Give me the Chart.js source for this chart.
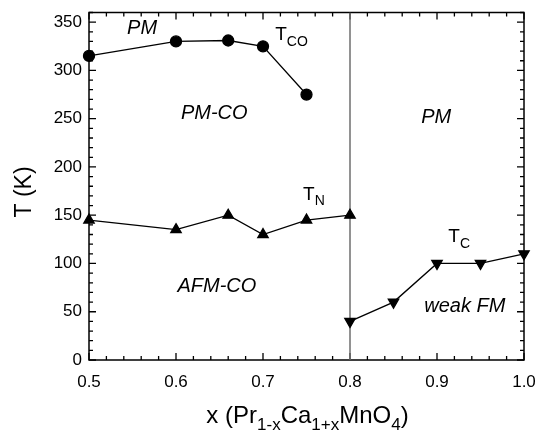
<!DOCTYPE html>
<html>
<head>
<meta charset="utf-8">
<script src="https://cdn.jsdelivr.net/npm/chart.js@4"></script>
<style>
html,body{margin:0;padding:0;background:#fff;}
#wrap{width:538px;height:431px;}
</style>
</head>
<body>
<div id="wrap"><canvas id="c" width="538" height="431"></canvas></div>
<script>
// ---- data ----
const xTicks = [0.5, 0.6, 0.7, 0.8, 0.9, 1.0];
const yTicks = [0, 50, 100, 150, 200, 250, 300, 350];
const tcoX = [0.5, 0.6, 0.66, 0.7, 0.75];
const tcoY = [315, 330, 331, 325, 275];
const tnX = [0.5, 0.6, 0.66, 0.7, 0.75, 0.8];
const tnY = [145, 135, 150, 130, 145, 150];
const tcX = [0.8, 0.85, 0.9, 0.95, 1.0];
const tcY = [40, 60, 100, 100, 110];
const boundaryX = [0.8, 0.8];
const boundaryY = [0, 360];
const xRange = [0.5, 1.0];
const yRange = [0, 360];

const pts = (xs, ys) => xs.map((x, i) => ({x, y: ys[i]}));
const FONT = '"Liberation Sans", Arial, sans-serif';

function drawParts(ctx, parts, x, y, size, subSize, italic) {
  let cx = x;
  parts.forEach(p => {
    const s = p.sub ? subSize : size;
    ctx.font = (italic ? 'italic ' : '') + s + 'px ' + FONT;
    ctx.fillText(p.t, cx, p.sub ? y + size * 0.28 : y);
    cx += ctx.measureText(p.t).width;
  });
  return cx - x;
}
function partsWidth(ctx, parts, size, subSize) {
  let w = 0;
  parts.forEach(p => {
    ctx.font = (p.sub ? subSize : size) + 'px ' + FONT;
    w += ctx.measureText(p.t).width;
  });
  return w;
}

const framePlugin = {
  id: 'frame',
  beforeDatasetsDraw(chart) {
    const {ctx, chartArea: a, scales: {x, y}} = chart;
    ctx.save();
    ctx.strokeStyle = '#000';
    ctx.lineWidth = 1.5;
    ctx.strokeRect(a.left, a.top, a.right - a.left, a.bottom - a.top);
    ctx.lineWidth = 1.3;
    ctx.beginPath();
    for (let i = 0; i <= 25; i++) {
      const v = xRange[0] + i * 0.02;
      const px = x.getPixelForValue(v);
      const len = (i % 5 === 0) ? 7 : 4;
      ctx.moveTo(px, a.bottom); ctx.lineTo(px, a.bottom - len);
      ctx.moveTo(px, a.top); ctx.lineTo(px, a.top + len);
    }
    for (let v = 0; v <= 360; v += 10) {
      const py = y.getPixelForValue(v);
      const len = (v % 50 === 0) ? 7 : 4;
      ctx.moveTo(a.left, py); ctx.lineTo(a.left + len, py);
      ctx.moveTo(a.right, py); ctx.lineTo(a.right - len, py);
    }
    ctx.stroke();
    ctx.restore();
  },
  afterDraw(chart) {
    const {ctx, scales: {x, y}} = chart;
    ctx.save();
    ctx.fillStyle = '#000';
    ctx.textBaseline = 'middle';
    ctx.textAlign = 'center';
    ctx.font = 'italic 20px ' + FONT;
    const lbl = (t, vx, vy) => ctx.fillText(t, x.getPixelForValue(vx), y.getPixelForValue(vy));
    lbl('PM', 0.561, 344);
    lbl('PM-CO', 0.644, 255);
    lbl('PM', 0.899, 251);
    lbl('AFM-CO', 0.647, 76);
    lbl('weak FM', 0.932, 56);
    ctx.textAlign = 'left';
    ctx.textBaseline = 'alphabetic';
    drawParts(ctx, [{t:'T'},{t:'CO',sub:true}], x.getPixelForValue(0.714), y.getPixelForValue(331), 19, 14);
    drawParts(ctx, [{t:'T'},{t:'N',sub:true}], x.getPixelForValue(0.746), y.getPixelForValue(166), 19, 14);
    drawParts(ctx, [{t:'T'},{t:'C',sub:true}], x.getPixelForValue(0.913), y.getPixelForValue(122), 19, 14);
    // x title
    const xt = [{t:'x (Pr'},{t:'1-x',sub:true},{t:'Ca'},{t:'1+x',sub:true},{t:'MnO'},{t:'4',sub:true},{t:')'}];
    const cxm = (chart.chartArea.left + chart.chartArea.right) / 2;
    const w = partsWidth(ctx, xt, 24, 17);
    drawParts(ctx, xt, cxm - w / 2 + 1, 423, 24, 17);
    // y title
    ctx.translate(31, 192);
    ctx.rotate(-Math.PI / 2);
    ctx.textAlign = 'center';
    ctx.font = '23px ' + FONT;
    ctx.fillText('T (K)', 0, 0);
    ctx.restore();
  }
};

new Chart(document.getElementById('c'), {
  type: 'scatter',
  data: {
    datasets: [
      {label: 'TCO', data: pts(tcoX, tcoY), showLine: true, borderColor: '#000', backgroundColor: '#000',
       borderWidth: 1.3, pointStyle: 'circle', pointRadius: 5.5, pointHoverRadius: 5.5, clip: false},
      {label: 'TN', data: pts(tnX, tnY), showLine: true, borderColor: '#000', backgroundColor: '#000',
       borderWidth: 1.3, pointStyle: 'triangle', pointRadius: 6, pointHoverRadius: 6, clip: false},
      {label: 'TC', data: pts(tcX, tcY), showLine: true, borderColor: '#000', backgroundColor: '#000',
       borderWidth: 1.3, pointStyle: 'triangle', rotation: 180, pointRadius: 6, pointHoverRadius: 6, clip: false},
      {label: 'boundary', data: pts(boundaryX, boundaryY), showLine: true, borderColor: '#6e6e6e',
       borderWidth: 1.5, pointRadius: 0, pointHoverRadius: 0, order: 5}
    ]
  },
  options: {
    responsive: false,
    animation: false,
    events: [],
    layout: {padding: {top: 12.5, right: 14, left: 0, bottom: 0}},
    plugins: {legend: {display: false}, tooltip: {enabled: false}},
    scales: {
      x: {
        type: 'linear', min: xRange[0], max: xRange[1],
        afterBuildTicks: s => { s.ticks = xTicks.map(v => ({value: v})); },
        afterFit: s => { s.height = 71; s.paddingLeft = 0; s.paddingRight = 0; },
        grid: {display: false, drawTicks: false},
        border: {display: false},
        ticks: {padding: 12, color: '#000', font: {size: 17, family: FONT}, maxRotation: 0,
                callback: v => Number(v).toFixed(1)}
      },
      y: {
        type: 'linear', min: yRange[0], max: yRange[1],
        afterBuildTicks: s => { s.ticks = yTicks.map(v => ({value: v})); },
        afterFit: s => { s.width = 89; s.paddingTop = 0; s.paddingBottom = 0; },
        grid: {display: false, drawTicks: false},
        border: {display: false},
        ticks: {padding: 7, color: '#000', font: {size: 17, family: FONT},
                callback: v => String(v)}
      }
    }
  },
  plugins: [framePlugin]
});
</script>
</body>
</html>
